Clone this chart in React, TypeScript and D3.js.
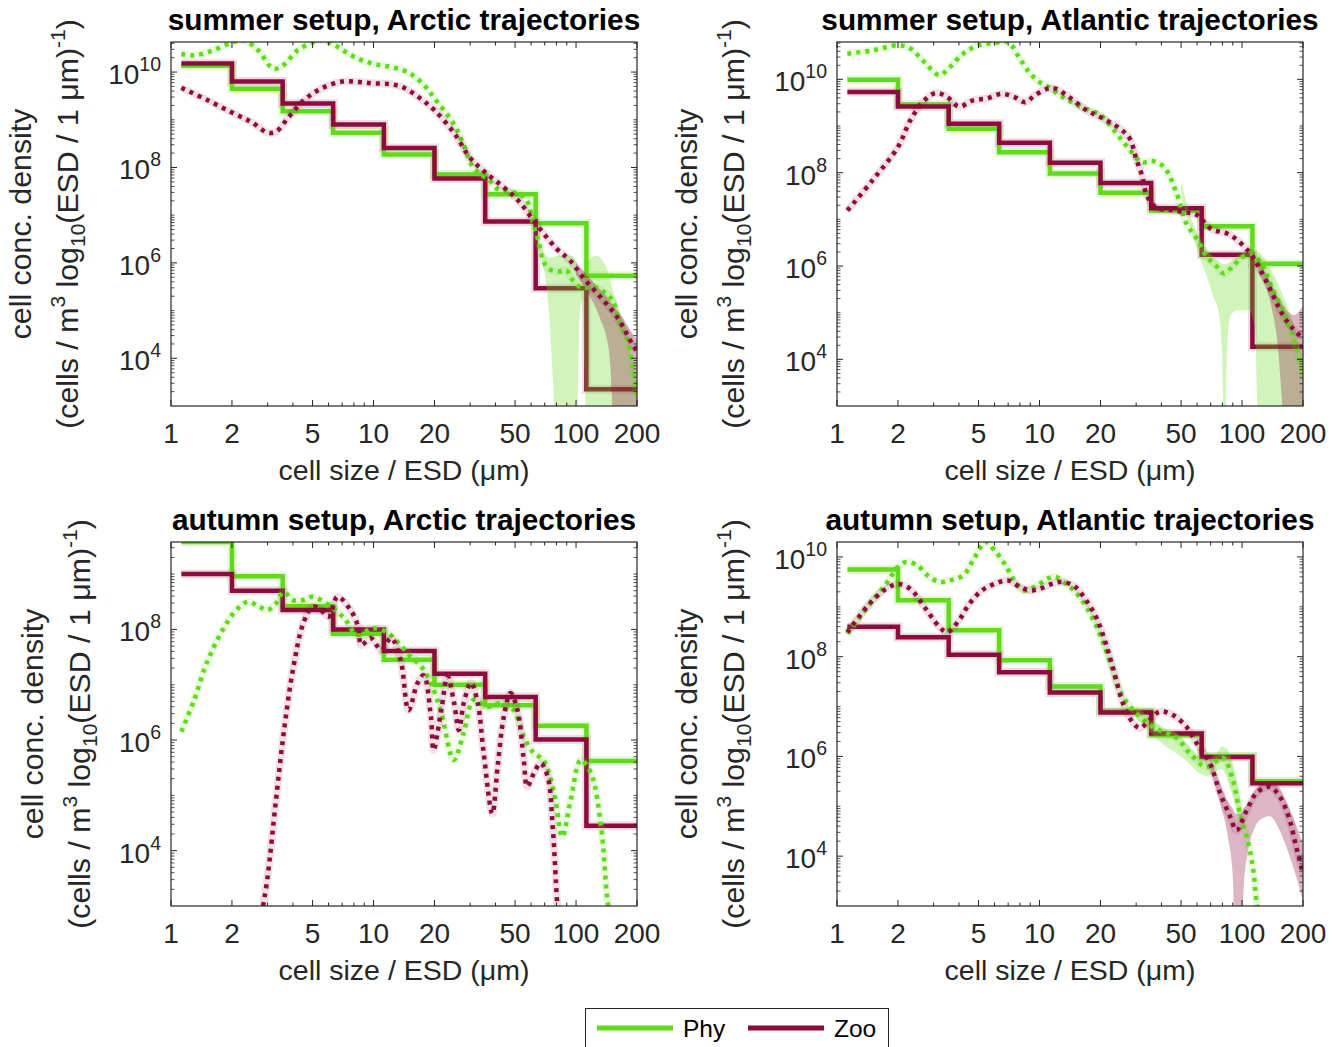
import React from "react";
import * as d3 from "d3";

// ---------- shared axis values ----------
const binEdges = [1.125, 2, 3.56, 6.32, 11.25, 20, 35.6, 63.2, 112.5, 200];
const xTickValues = [1, 2, 5, 10, 20, 50, 100, 200];
const xMinorValues = [3, 4, 6, 7, 8, 9, 30, 40, 60, 70, 80, 90];
const seriesNames = ["Phy", "Zoo"];

// ---------- summer setup, Arctic trajectories (log10 densities) ----------
const summerArcticPhyStep = [10.13, 9.65, 9.18, 8.73, 8.27, 7.85, 7.44, 6.83, 5.73];
const summerArcticZooStep = [10.18, 9.8, 9.34, 8.9, 8.41, 7.77, 6.87, 5.47, 3.35];
const summerArcticPhyCurve = [
  [1.125, 10.38], [1.3, 10.35], [1.6, 10.45], [2.0, 10.62], [2.3, 10.66], [2.7, 10.45],
  [3.2, 10.07], [3.6, 10.15], [4.2, 10.45], [5.0, 10.62], [5.6, 10.67], [6.5, 10.55],
  [8.0, 10.32], [10, 10.17], [12.4, 10.1], [15, 9.98], [18, 9.7], [20, 9.45], [25, 8.9],
  [28, 8.45], [31, 8.0], [34, 7.85], [37, 7.75], [41, 7.55], [46, 7.5], [52, 7.45],
  [57, 7.32], [61.5, 6.82], [65, 6.48], [68.7, 6.06], [73, 5.88], [82, 5.82], [90, 5.84],
  [95, 5.67], [106, 5.48], [121, 5.5], [135, 5.41], [152, 5.2], [161, 4.84], [170, 4.6],
  [178, 4.42], [189, 3.94], [200, 3.23],
];
const summerArcticZooCurve = [
  [1.125, 9.67], [1.5, 9.42], [2, 9.15], [2.5, 8.95], [3.0, 8.73], [3.3, 8.75], [3.8, 9.05],
  [4.5, 9.4], [5.5, 9.65], [7, 9.8], [8.5, 9.79], [10, 9.76], [12, 9.75], [14, 9.68],
  [17, 9.45], [20, 9.2], [25, 8.72], [30, 8.2], [36, 7.88], [43.5, 7.6], [52, 7.3],
  [64, 6.8], [80, 6.3], [93, 6.06], [110, 5.66], [135, 5.24], [161, 4.84], [190, 4.29],
  [200, 4.15],
];
const summerArcticPhyBand = [
  [64, 6.35, 6.55], [68, 6.05, 6.3], [71, 5.6, 6.15], [74, 4.8, 6.12], [77, 3.5, 6.12],
  [80, 2, 6.15], [95, 2, 6.15], [101, 2.5, 6.0], [104, 4.8, 5.75], [107, 5.2, 5.7],
  [110, 4.0, 5.85], [113, 2, 6.0], [125, 2, 6.15], [140, 2, 5.95], [155, 2, 5.3],
  [170, 2, 4.8], [185, 2, 4.2], [200, 2, 3.5],
];
const summerArcticZooBand = [
  [100, 5.75, 6.0], [113, 5.4, 5.75], [131, 4.85, 5.45], [145, 4.2, 5.25], [150, 3.3, 5.15],
  [153, 2, 5.1], [170, 2, 4.85], [185, 2, 4.6], [200, 2, 4.4],
];

// ---------- summer setup, Atlantic trajectories ----------
const summerAtlanticPhyStep = [9.99, 9.46, 8.94, 8.44, 7.98, 7.57, 7.19, 6.85, 6.05];
const summerAtlanticZooStep = [9.73, 9.42, 9.05, 8.64, 8.21, 7.78, 7.24, 6.24, 4.27];
const summerAtlanticPhyCurve = [
  [1.125, 10.55], [1.5, 10.62], [2, 10.73], [2.3, 10.66], [2.7, 10.37], [3.2, 10.09],
  [3.6, 10.26], [4.2, 10.55], [5, 10.73], [6, 10.78], [7, 10.8], [8, 10.44], [9, 10.12],
  [10, 9.94], [11, 9.84], [13, 9.62], [16, 9.41], [20, 9.23], [24, 8.84], [28, 8.48],
  [32, 8.22], [36, 8.25], [41, 8.13], [47, 7.62], [53, 6.92], [60, 6.57], [67, 6.2],
  [75, 5.99], [81, 5.84], [90, 5.99], [101, 6.2], [113, 6.24], [127, 5.99], [142, 5.49],
  [159, 5.06], [171, 4.7], [185, 4.27], [196, 3.84], [200, 3.63],
];
const summerAtlanticZooCurve = [
  [1.125, 7.19], [1.5, 7.84], [2, 8.55], [2.3, 9.12], [2.7, 9.55], [3.1, 9.71], [3.5, 9.62],
  [4, 9.42], [4.7, 9.55], [5.5, 9.59], [6.5, 9.69], [7.5, 9.62], [8.5, 9.51], [9.5, 9.66],
  [11, 9.8], [12, 9.8], [14, 9.62], [17, 9.34], [20, 9.19], [25, 8.94], [28, 8.72],
  [30, 8.3], [32, 7.95], [34, 7.5], [38, 7.24], [45, 7.2], [52, 7.15], [59.6, 7.1],
  [70, 6.8], [87, 6.67], [108, 6.31], [122, 5.95], [142, 5.38], [159, 4.95], [178, 4.66],
  [200, 4.45],
];
const summerAtlanticPhyBand = [
  [50, 7.55, 7.8], [55, 6.9, 7.15], [60, 6.35, 6.7], [66, 5.85, 6.4], [72, 5.35, 6.2],
  [77, 4.95, 6.1], [79.5, 4.2, 6.05], [82, 2, 6.05], [84.5, 4.3, 6.05], [88, 4.95, 6.12],
  [95, 5.05, 6.2], [108, 5.05, 6.35], [116, 4.6, 6.35], [121, 2, 6.3], [140, 2, 5.9],
  [160, 2, 5.35], [180, 2, 4.75], [200, 2, 4.0],
];
const summerAtlanticZooBand = [
  [120, 5.85, 6.15], [140, 5.1, 5.6], [150, 4.3, 5.35], [158, 3.0, 5.2], [163, 2, 5.1],
  [180, 2, 4.95], [200, 2, 5.15],
];

// ---------- autumn setup, Arctic trajectories ----------
const autumnArcticPhyStep = [9.58, 8.96, 8.42, 7.92, 7.45, 7.0, 6.63, 6.26, 5.62];
const autumnArcticZooStep = [9.0, 8.7, 8.35, 8.0, 7.61, 7.2, 6.78, 6.01, 4.45];
const autumnArcticPhyCurve = [
  [1.125, 6.15], [1.3, 6.72], [1.5, 7.39], [1.8, 7.99], [2.1, 8.35], [2.4, 8.5], [2.7, 8.42],
  [3.0, 8.35], [3.3, 8.47], [3.6, 8.68], [4.0, 8.53], [4.5, 8.53], [5.0, 8.59], [5.5, 8.53],
  [6.16, 8.41], [7.18, 8.2], [8.3, 7.9], [9.9, 8.02], [11.5, 7.96], [13.1, 7.78],
  [15.3, 7.5], [17.2, 7.33], [19.2, 7.03], [21.6, 6.49], [24.9, 5.64], [27.9, 6.13],
  [31.3, 6.73], [36.4, 6.6], [42.5, 6.67], [49.2, 6.54], [55.2, 6.06], [62, 5.76],
  [69, 5.64], [78, 5.04], [85.5, 4.25], [94, 4.91], [105.7, 5.64], [118.6, 5.4],
  [133, 4.43], [143.5, 3.05], [150, 2.7],
];
const autumnArcticZooCurve = [
  [2.85, 3.0], [3.0, 3.53], [3.3, 4.92], [3.6, 6.12], [4.0, 7.27], [4.5, 8.11], [5.0, 8.41],
  [5.5, 8.35], [6.0, 8.23], [6.64, 8.59], [7.7, 8.35], [8.4, 8.05], [8.7, 7.72], [9.7, 7.84],
  [10.9, 7.63], [12.2, 7.84], [13.6, 7.45], [14.9, 6.54], [16.5, 7.03], [17.7, 7.17],
  [19.2, 6.42], [19.8, 5.82], [21.6, 6.54], [23.2, 7.15], [25, 6.67], [26.4, 6.18],
  [27.9, 6.67], [30.3, 7.03], [32.7, 6.67], [35, 5.76], [38.6, 4.67], [41, 5.52],
  [44, 6.42], [47.5, 6.85], [51.4, 6.54], [55.2, 5.64], [57.4, 5.16], [61.9, 5.4],
  [66.8, 5.58], [72.4, 5.34], [76.7, 4.43], [80.7, 3.05], [83, 2.5],
];
const autumnArcticPhyBand: number[][] = [];
const autumnArcticZooBand: number[][] = [];

// ---------- autumn setup, Atlantic trajectories ----------
const autumnAtlanticPhyStep = [9.75, 9.13, 8.53, 7.93, 7.4, 6.91, 6.43, 6.0, 5.5];
const autumnAtlanticZooStep = [8.6, 8.39, 8.04, 7.69, 7.28, 6.88, 6.46, 5.99, 5.46];
const autumnAtlanticPhyCurve = [
  [1.125, 8.46], [1.3, 8.8], [1.5, 9.13], [1.75, 9.46], [2.0, 9.8], [2.2, 9.9], [2.5, 9.83],
  [2.8, 9.63], [3.2, 9.5], [3.6, 9.53], [4.2, 9.63], [4.8, 10.0], [5.4, 10.3], [6.0, 10.13],
  [6.8, 9.83], [7.5, 9.53], [8.3, 9.33], [9, 9.36], [10, 9.46], [11, 9.57], [12, 9.6],
  [13.5, 9.46], [15, 9.3], [17, 9.0], [19, 8.63], [21, 8.19], [23, 7.73], [25, 7.3],
  [29, 6.93], [36, 6.6], [47.5, 6.37], [55, 6.07], [66.6, 5.79], [80.5, 5.97], [90, 5.53],
  [97.6, 4.86], [105.5, 4.39], [113, 3.79], [118, 3.06], [122, 2.6],
];
const autumnAtlanticZooCurve = [
  [1.125, 8.49], [1.3, 8.83], [1.5, 9.13], [1.75, 9.36], [2.0, 9.46], [2.3, 9.36], [2.7, 9.0],
  [3.2, 8.6], [3.5, 8.49], [4.0, 8.73], [4.5, 9.06], [5.2, 9.33], [6.0, 9.46], [7.0, 9.53],
  [8, 9.4], [9, 9.33], [10, 9.36], [11.5, 9.46], [13, 9.5], [15, 9.4], [17, 9.13],
  [19, 8.8], [21, 8.33], [23, 7.79], [25.8, 7.07], [29, 6.67], [31.3, 6.57], [35, 6.73],
  [39.2, 6.9], [45.5, 6.83], [53, 6.6], [59.6, 6.27], [69.3, 5.87], [77.8, 5.27],
  [87.4, 4.79], [94, 4.52], [105.5, 4.92], [118, 5.27], [137, 5.39], [154, 5.19],
  [172, 4.72], [185, 4.19], [200, 3.66],
];
const autumnAtlanticPhyBand = [
  [30, 6.75, 7.0], [36, 6.45, 6.75], [42, 6.2, 6.55], [48, 6.05, 6.45], [55, 5.85, 6.2],
  [62, 5.65, 6.0], [68, 5.6, 5.95], [74, 5.7, 6.05], [80, 5.75, 6.2], [86, 5.45, 6.1],
  [92, 5.1, 5.7], [100, 4.5, 4.95],
];
const autumnAtlanticZooBand = [
  [70, 5.7, 5.95], [78, 5.05, 5.45], [85, 4.4, 5.1], [90, 3.6, 4.95], [93, 2, 4.85],
  [99, 2, 4.85], [102, 3.4, 4.95], [107, 4.1, 5.05], [115, 4.55, 5.3], [125, 4.75, 5.45],
  [137, 4.8, 5.5], [150, 4.6, 5.42], [165, 4.2, 5.1], [180, 3.75, 4.75], [200, 3.1, 4.25],
];

// ---------- panel titles and y-axis tops ----------
const panelTitles = [
  "summer setup, Arctic trajectories",
  "summer setup, Atlantic trajectories",
  "autumn setup, Arctic trajectories",
  "autumn setup, Atlantic trajectories",
];
const yTopExponents = [10.63, 10.8, 9.58, 10.3];
const yLabelExponents = [[4, 6, 8, 10], [4, 6, 8, 10], [4, 6, 8], [4, 6, 8, 10]];

// ---------- styling / layout ----------
const GREEN = "#62d91c";
const MAROON = "#8b0c3d";
const AXIS = "#262626";
const FONT = "'Liberation Sans', Arial, Helvetica, sans-serif";
const PLOT_W = 466;
const PLOT_H = 364;
const panelBoxes = [
  { left: 171, top: 42, labelX: 0 },
  { left: 837, top: 42, labelX: 0 },
  { left: 171, top: 542, labelX: 12 },
  { left: 837, top: 542, labelX: 0 },
];

type Pt = number[];
interface PanelSpec {
  title: string;
  yTop: number;
  yLabels: number[];
  phyStep: number[];
  zooStep: number[];
  phyCurve: Pt[];
  zooCurve: Pt[];
  phyBand: Pt[];
  zooBand: Pt[];
}

const panels: PanelSpec[] = [
  {
    title: panelTitles[0], yTop: yTopExponents[0], yLabels: yLabelExponents[0],
    phyStep: summerArcticPhyStep, zooStep: summerArcticZooStep,
    phyCurve: summerArcticPhyCurve, zooCurve: summerArcticZooCurve,
    phyBand: summerArcticPhyBand, zooBand: summerArcticZooBand,
  },
  {
    title: panelTitles[1], yTop: yTopExponents[1], yLabels: yLabelExponents[1],
    phyStep: summerAtlanticPhyStep, zooStep: summerAtlanticZooStep,
    phyCurve: summerAtlanticPhyCurve, zooCurve: summerAtlanticZooCurve,
    phyBand: summerAtlanticPhyBand, zooBand: summerAtlanticZooBand,
  },
  {
    title: panelTitles[2], yTop: yTopExponents[2], yLabels: yLabelExponents[2],
    phyStep: autumnArcticPhyStep, zooStep: autumnArcticZooStep,
    phyCurve: autumnArcticPhyCurve, zooCurve: autumnArcticZooCurve,
    phyBand: autumnArcticPhyBand, zooBand: autumnArcticZooBand,
  },
  {
    title: panelTitles[3], yTop: yTopExponents[3], yLabels: yLabelExponents[3],
    phyStep: autumnAtlanticPhyStep, zooStep: autumnAtlanticZooStep,
    phyCurve: autumnAtlanticPhyCurve, zooCurve: autumnAtlanticZooCurve,
    phyBand: autumnAtlanticPhyBand, zooBand: autumnAtlanticZooBand,
  },
];

const pow10 = (e: number) => Math.pow(10, e);

function Panel({ spec, box, idx }: { spec: PanelSpec; box: { left: number; top: number; labelX: number }; idx: number }) {
  const { left, top } = box;
  const right = left + PLOT_W;
  const bottom = top + PLOT_H;
  const x = d3.scaleLog().domain([1, 200]).range([left, right]);
  const y = d3.scaleLog().domain([1e3, pow10(spec.yTop)]).range([bottom, top]);

  const stepPts = (vals: number[]): Pt[] => [
    ...vals.map((v, i) => [binEdges[i], v]),
    [binEdges[binEdges.length - 1], vals[vals.length - 1]],
  ];
  const stepLine = d3
    .line<Pt>()
    .x((d) => x(d[0]))
    .y((d) => y(pow10(d[1])))
    .curve(d3.curveStepAfter);
  const smooth = d3
    .line<Pt>()
    .x((d) => x(d[0]))
    .y((d) => y(pow10(d[1])))
    .curve(d3.curveCatmullRom.alpha(0.5));
  const band = d3
    .area<Pt>()
    .x((d) => x(d[0]))
    .y0((d) => y(pow10(d[1])))
    .y1((d) => y(pow10(d[2])))
    .curve(d3.curveMonotoneX);

  const clipId = `plot-clip-${idx}`;

  // tick positions
  const yMajor = spec.yLabels.map(pow10);
  const yMinor: number[] = [];
  for (let d = 3; d <= Math.floor(spec.yTop); d++) {
    if (!spec.yLabels.includes(d) && d > 3) yMinor.push(pow10(d));
    for (let k = 2; k <= 9; k++) {
      const v = k * pow10(d);
      if (Math.log10(v) <= spec.yTop) yMinor.push(v);
    }
  }
  const MAJ = 6;
  const MIN = 3.5;

  const labelX1 = left - 140 + box.labelX;
  const labelX2 = left - 93 + box.labelX;
  const midY = (top + bottom) / 2;

  return (
    <g>
      <defs>
        <clipPath id={clipId}>
          <rect x={left} y={top} width={PLOT_W} height={PLOT_H} />
        </clipPath>
      </defs>

      <g clipPath={`url(#${clipId})`}>
        {/* binned observations */}
        <path d={stepLine(stepPts(spec.phyStep)) || ""} fill="none" stroke={GREEN} strokeOpacity={0.18} strokeWidth={9} />
        <path d={stepLine(stepPts(spec.zooStep)) || ""} fill="none" stroke={MAROON} strokeOpacity={0.14} strokeWidth={9} />
        <path d={stepLine(stepPts(spec.phyStep)) || ""} fill="none" stroke={GREEN} strokeWidth={4.5} />
        <path d={stepLine(stepPts(spec.zooStep)) || ""} fill="none" stroke={MAROON} strokeWidth={4.5} />

        {/* uncertainty envelopes */}
        {spec.phyBand.length > 0 && <path d={band(spec.phyBand) || ""} fill={GREEN} fillOpacity={0.3} stroke="none" />}
        {spec.zooBand.length > 0 && <path d={band(spec.zooBand) || ""} fill={MAROON} fillOpacity={0.3} stroke="none" />}

        {/* model spectra */}
        <path d={smooth(spec.phyCurve) || ""} fill="none" stroke={GREEN} strokeOpacity={0.14} strokeWidth={8} />
        <path d={smooth(spec.phyCurve) || ""} fill="none" stroke={GREEN} strokeWidth={4.5} strokeDasharray="4 5" />
        <path d={smooth(spec.zooCurve) || ""} fill="none" stroke={MAROON} strokeOpacity={0.12} strokeWidth={8} />
        <path d={smooth(spec.zooCurve) || ""} fill="none" stroke={MAROON} strokeWidth={4.5} strokeDasharray="4 5" />
      </g>

      {/* axes box and ticks */}
      <rect x={left} y={top} width={PLOT_W} height={PLOT_H} fill="none" stroke={AXIS} strokeWidth={1.2} />
      {xTickValues.map((v) => (
        <g key={`xt${v}`} stroke={AXIS} strokeWidth={1}>
          <line x1={x(v)} x2={x(v)} y1={bottom} y2={bottom - MAJ} />
          <line x1={x(v)} x2={x(v)} y1={top} y2={top + MAJ} />
        </g>
      ))}
      {xMinorValues.map((v) => (
        <g key={`xm${v}`} stroke={AXIS} strokeWidth={1}>
          <line x1={x(v)} x2={x(v)} y1={bottom} y2={bottom - MIN} />
          <line x1={x(v)} x2={x(v)} y1={top} y2={top + MIN} />
        </g>
      ))}
      {yMajor.map((v) => (
        <g key={`yt${v}`} stroke={AXIS} strokeWidth={1}>
          <line x1={left} x2={left + MAJ} y1={y(v)} y2={y(v)} />
          <line x1={right} x2={right - MAJ} y1={y(v)} y2={y(v)} />
        </g>
      ))}
      {yMinor.map((v, i) => (
        <g key={`ym${i}`} stroke={AXIS} strokeWidth={0.8}>
          <line x1={left} x2={left + MIN} y1={y(v)} y2={y(v)} />
          <line x1={right} x2={right - MIN} y1={y(v)} y2={y(v)} />
        </g>
      ))}

      {/* tick labels */}
      {xTickValues.map((v) => (
        <text key={`xl${v}`} x={x(v)} y={bottom + 37} textAnchor="middle" fontSize={28} fill={AXIS} fontFamily={FONT}>
          {v}
        </text>
      ))}
      {spec.yLabels.map((e) => (
        <text key={`yl${e}`} x={left - 10} y={y(pow10(e)) + 12} textAnchor="end" fontSize={28} fill={AXIS} fontFamily={FONT}>
          10
          <tspan dy={-13} fontSize={19.5}>{e}</tspan>
        </text>
      ))}

      {/* axis titles */}
      <text x={(left + right) / 2} y={bottom + 74} textAnchor="middle" fontSize={28.5} fill={AXIS} fontFamily={FONT}>
        cell size / ESD (μm)
      </text>
      <text transform={`translate(${labelX1},${midY}) rotate(-90)`} textAnchor="middle" fontSize={30.3} fill={AXIS} fontFamily={FONT}>
        cell conc. density
      </text>
      <text transform={`translate(${labelX2},${midY}) rotate(-90)`} textAnchor="middle" fontSize={30.3} fill={AXIS} fontFamily={FONT}>
        (cells / m
        <tspan dy={-13} fontSize={21}>3</tspan>
        <tspan dy={13}> log</tspan>
        <tspan dy={7} fontSize={21}>10</tspan>
        <tspan dy={-7}>(ESD / 1 μm)</tspan>
        <tspan dy={-13} fontSize={21}>-1</tspan>
        <tspan dy={13}>)</tspan>
      </text>

      <text x={(left + right) / 2} y={top - 12} textAnchor="middle" fontSize={29.8} fontWeight="bold" fill="#000" fontFamily={FONT}>
        {spec.title}
      </text>
    </g>
  );
}

function Legend() {
  const colors = [GREEN, MAROON];
  const starts = [597, 748];
  return (
    <g>
      <rect x={585.5} y={1008.5} width={303} height={60} fill="#fff" stroke={AXIS} strokeWidth={1} />
      {seriesNames.map((name, i) => (
        <g key={name}>
          <line x1={starts[i]} x2={starts[i] + 76} y1={1028} y2={1028} stroke={colors[i]} strokeWidth={5} />
          <text x={starts[i] + 86} y={1037} fontSize={24.5} fill="#000" fontFamily={FONT}>
            {name}
          </text>
        </g>
      ))}
    </g>
  );
}

export default function App() {
  return (
    <svg
      width={1339}
      height={1047}
      viewBox="0 0 1339 1047"
      style={{ position: "absolute", left: 0, top: 0, background: "#fff" }}
    >
      <rect x={0} y={0} width={1339} height={1047} fill="#fff" />
      {panels.map((p, i) => (
        <Panel key={i} spec={p} box={panelBoxes[i]} idx={i} />
      ))}
      <Legend />
    </svg>
  );
}
